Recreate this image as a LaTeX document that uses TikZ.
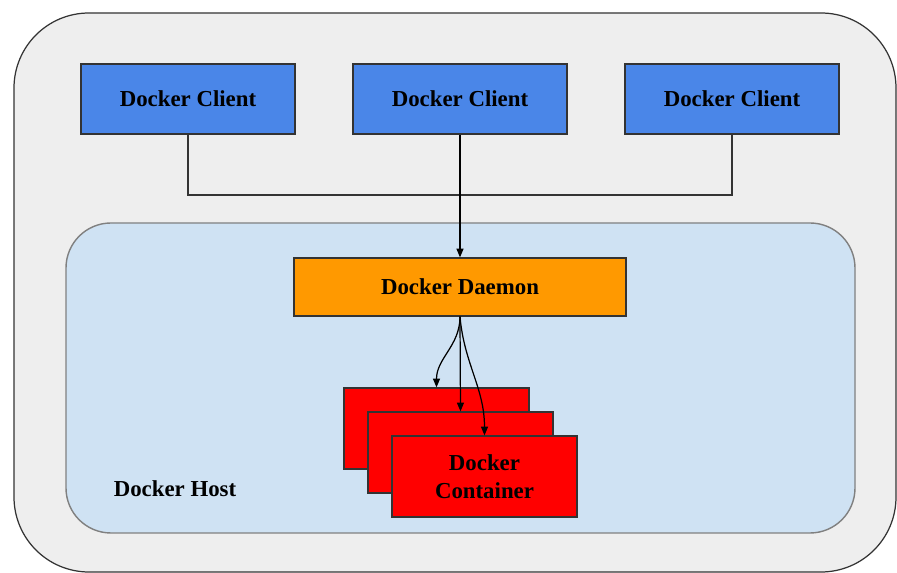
\documentclass[tikz,border=0pt]{standalone}
\usepackage{fontspec}
\setmainfont{Liberation Serif}
\usepackage{tikz}
\usetikzlibrary{arrows.meta}

\definecolor{hostgray}{HTML}{EEEEEE}
\definecolor{hostblue}{HTML}{CFE2F3}
\definecolor{clientblue}{HTML}{4A86E8}
\definecolor{daemonorange}{HTML}{FF9900}
\definecolor{boxline}{HTML}{333333}

\tikzset{
    client/.style = {draw=boxline, fill=clientblue, line width=0.7pt, inner sep=0pt,
                     minimum width=4.28cm, minimum height=1.4cm,
                     font=\fontsize{13}{15}\selectfont\bfseries},
    daemon/.style = {draw=boxline, fill=daemonorange, line width=0.7pt, inner sep=0pt,
                     minimum width=6.64cm, minimum height=1.16cm,
                     font=\fontsize{13}{15}\selectfont\bfseries},
    container/.style = {draw=boxline, fill=red, line width=0.7pt, inner sep=0pt,
                        minimum width=3.7cm, minimum height=1.62cm, align=center,
                        font=\fontsize{13}{16}\selectfont\bfseries},
    link/.style = {line width=0.7pt, draw=boxline},
    arr/.style = {line width=0.7pt, -{Triangle[length=5pt,width=4pt]}}
}

\begin{document}
\begin{tikzpicture}[x=0.02cm, y=-0.02cm]
    \useasboundingbox (0,0) rectangle (897,573);

    % frames
    \draw[fill=hostgray, draw=boxline, line width=0.7pt, rounded corners=1.5cm] (14,13) rectangle (896,572);
    \draw[fill=hostblue, draw=gray, line width=0.8pt, rounded corners=0.9cm] (66,223) rectangle (855,533);

    % clients
    \node[client] (cl1) at (188,99) {Docker Client};
    \node[client] (cl2) at (460,99) {Docker Client};
    \node[client] (cl3) at (732,99) {Docker Client};

    % daemon
    \node[daemon] (dmn) at (460,287) {Docker Daemon};

    % containers
    \node[container] (ctA) at (436.5,428.5) {};
    \node[container] (ctB) at (460.5,452.5) {};
    \node[container] (ctC) at (484.5,476.5) {Docker\\Container};

    \node[font=\fontsize{13}{15}\selectfont\bfseries] (host) at (175,489) {Docker Host};

    \coordinate (bus) at (460,195);
    \draw[link] (cl1.south) |- (bus) -| (cl3.south);
    \draw[arr] (cl2.south) -- (dmn.north);

    \draw[arr] (dmn.south) to[out=-90, in=90] (ctA.north);
    \draw[arr] (dmn.south) -- (ctB.north);
    \draw[arr] (dmn.south) to[out=-85, in=90] (ctC.north);
\end{tikzpicture}
\end{document}
